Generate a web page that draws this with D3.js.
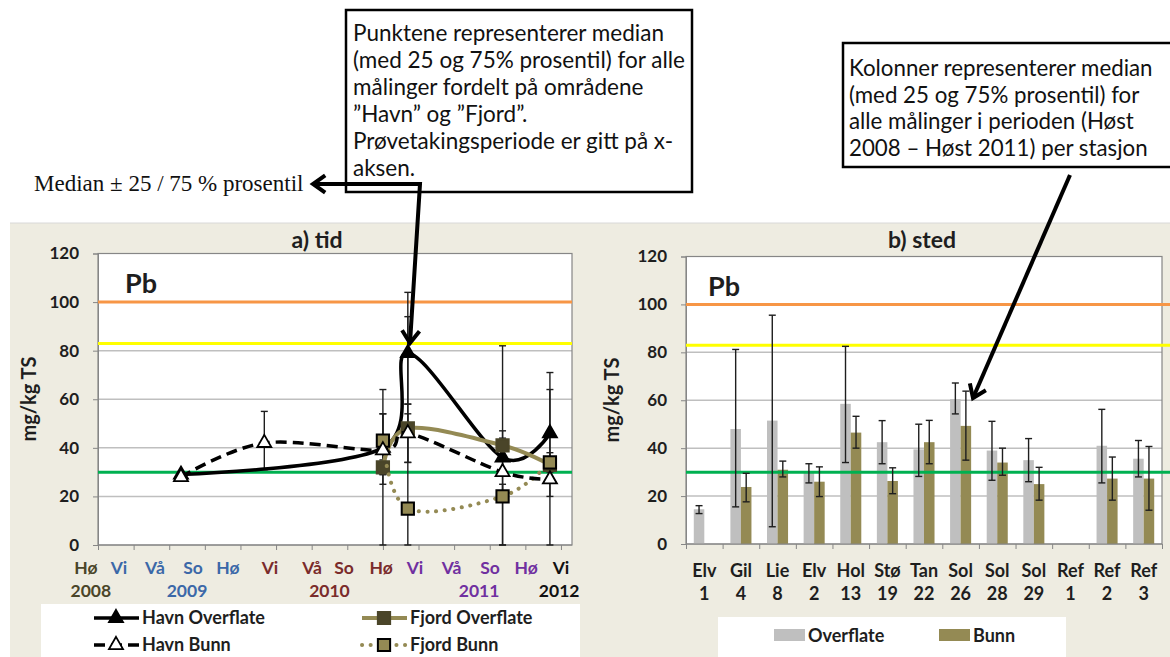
<!DOCTYPE html>
<html>
<head>
<meta charset="utf-8">
<title>Pb - tid og sted</title>
<script src="https://d3js.org/d3.v7.min.js"></script>
<style>
body { margin: 0; background: #fff; }
svg text { font-family: Lato, "Open Sans", sans-serif; }
svg text.serif { font-family: "Liberation Serif", "DejaVu Serif", serif; }
</style>
</head>
<body>
<script>
// ---- data: a) tid ----
var seasonLabels = ["Hø","Vi","Vå","So","Hø","Vi","Vå","So","Hø","Vi","Vå","So","Hø","Vi"];
var seasonPos = [-0.34, 0.59, 1.6, 2.67, 3.65, 4.83, 6.01, 6.91, 7.95, 8.9, 9.93, 11.01, 12.02, 13.0];
var seasonYear = [2008, 2009, 2009, 2009, 2009, 2010, 2010, 2010, 2010, 2011, 2011, 2011, 2011, 2012];
var yearLabels = [2008, 2009, 2010, 2011, 2012];
var yearPos = [-0.2, 2.5, 6.5, 10.7, 12.95];

var havnOverflateX  = [2.33, 8.0, 8.7, 11.36, 12.69];
var havnOverflate   = [29, 40, 79, 36, 46];
var havnOverflateLo = [null, 0, 58, 0, 20];
var havnOverflateHi = [null, 64, 104, 82, 71];

var havnBunnX  = [2.33, 4.67, 8.0, 8.7, 11.36, 12.69];
var havnBunn   = [28, 42, 39, 46, 30, 27];
var havnBunnLo = [null, 31, 25, 34, 22, 0];
var havnBunnHi = [null, 55, 54, 94, 47, 64];

var fjordOverflateX  = [8.0, 8.7, 11.36, 12.69];
var fjordOverflate   = [32, 48, 41, 33];
var fjordOverflateLo = [29, 34, 37, 31];
var fjordOverflateHi = [35, 54, 44, 35];

var fjordBunnX  = [8.0, 8.7, 11.36, 12.69];
var fjordBunn   = [43, 15, 20, 34];
var fjordBunnLo = [29, 0, 0, 30];
var fjordBunnHi = [54, 58, 25, 38];

// ---- data: b) sted ----
var stationNames = ["Elv","Gil","Lie","Elv","Hol","Stø","Tan","Sol","Sol","Sol","Ref","Ref","Ref"];
var stationNums  = ["1","4","8","2","13","19","22","26","28","29","1","2","3"];
var overflate   = [14.5, 48, 51.5, 30, 58.5, 42.5, 39.5, 60.5, 39, 35, null, 41, 35.6];
var overflateLo = [12.7, 15.5, 7.2, 25.5, 34, 33.5, 28.2, 54.3, 26.6, 26, null, 25.5, 28];
var overflateHi = [16, 81.2, 95.5, 33.5, 82.5, 51.5, 50, 67.2, 51.2, 44, null, 56.2, 43.2];
var bunn   = [null, 23.8, 31, 26, 46.5, 26.3, 42.5, 49.3, 34, 25, null, 27.3, 27.3];
var bunnLo = [null, 17.6, 28, 19.8, 40, 21, 33.5, 35, 28.7, 18.3, null, 18.3, 14.1];
var bunnHi = [null, 29.5, 34.6, 32.2, 53.3, 31.8, 51.6, 63.8, 40, 32, null, 36.3, 40.7];

var yTicks = [0, 20, 40, 60, 80, 100, 120];
var limitValues = [100, 83, 30];

// ---- style ----
var limitColors = ["#F79646", "#FFFF00", "#00B050"];
var yearColors = {2008: "#4A4529", 2009: "#3B68A8", 2010: "#7A2B2B", 2011: "#7030A0", 2012: "#111"};
var olive = "#948A54", darkOlive = "#4A4529", grey = "#BFBFBF", ink = "#1E1E1E";

var svg = d3.select("body").append("svg").attr("width", 1170).attr("height", 657);

svg.append("rect").attr("x", 10).attr("y", 223).attr("width", 1160).attr("height", 434).attr("fill", "#EEECE1");
svg.append("line").attr("x1", 10).attr("x2", 1170).attr("y1", 223).attr("y2", 223).attr("stroke", "#D8D8D8");

function frame(g, x0, x1, y, title, titleX) {
  g.append("rect").attr("x", x0).attr("y", y.range()[1]).attr("width", x1 - x0)
    .attr("height", y.range()[0] - y.range()[1]).attr("fill", "#fff");
  // gridlines
  g.selectAll("line.grid").data(yTicks.slice(1, -1)).enter().append("line")
    .attr("x1", x0).attr("x2", x1).attr("y1", d => y(d)).attr("y2", d => y(d))
    .attr("stroke", "#BFBFBF").attr("stroke-width", 1.5);
  g.append("rect").attr("x", x0).attr("y", y.range()[1]).attr("width", x1 - x0)
    .attr("height", y.range()[0] - y.range()[1]).attr("fill", "none").attr("stroke", "#868686").attr("stroke-width", 1.2);
  var ax = g.append("g").attr("transform", "translate(" + x0 + ",0)")
    .call(d3.axisLeft(y).tickValues(yTicks).tickSize(5).tickPadding(14));
  ax.select(".domain").attr("stroke", "#868686");
  ax.selectAll(".tick line").attr("stroke", "#868686");
  ax.selectAll(".tick text").attr("font-size", 17).attr("font-weight", "bold").attr("fill", ink);
  g.append("text").attr("x", titleX).attr("y", 248).attr("text-anchor", "middle")
    .attr("font-size", 23).attr("font-weight", "bold").attr("fill", ink).text(title);
}

function limits(g, x0, x1, y) {
  g.selectAll("line.lim").data(limitValues).enter().append("line")
    .attr("x1", x0).attr("x2", x1).attr("y1", d => y(d)).attr("y2", d => y(d))
    .attr("stroke", (d, i) => limitColors[i]).attr("stroke-width", 3);
}

function errBar(g, x, lo, hi, cap) {
  g.append("line").attr("x1", x).attr("x2", x).attr("y1", lo).attr("y2", hi)
    .attr("stroke", ink).attr("stroke-width", 1.4);
  [lo, hi].forEach(function (v) {
    g.append("line").attr("x1", x - cap).attr("x2", x + cap).attr("y1", v).attr("y2", v)
      .attr("stroke", ink).attr("stroke-width", 1.4);
  });
}

// ================= a) tid =================
var xA = d3.scaleLinear().domain([0, 13.31]).range([98, 572]);
var yA = d3.scaleLinear().domain([0, 120]).range([545, 253.5]);
var gA = svg.append("g");
frame(gA, 98, 572, yA, "a) tid", 317);
limits(gA, 98, 572, yA);

var xAxA = gA.append("g").attr("transform", "translate(0,545)")
  .call(d3.axisBottom(xA).tickValues(d3.range(0, 14)).tickSize(5).tickFormat(""));
xAxA.select(".domain").remove();
xAxA.selectAll(".tick line").attr("stroke", "#868686");
gA.append("line").attr("x1", 98).attr("x2", 572).attr("y1", 545).attr("y2", 545).attr("stroke", "#868686");

gA.selectAll("text.season").data(seasonLabels).enter().append("text")
  .attr("x", (d, i) => xA(seasonPos[i])).attr("y", 574).attr("text-anchor", "middle")
  .attr("font-size", 17.5).attr("font-weight", "bold").attr("fill", (d, i) => yearColors[seasonYear[i]]).text(d => d);
gA.selectAll("text.year").data(yearLabels).enter().append("text")
  .attr("x", (d, i) => xA(yearPos[i])).attr("y", 597).attr("text-anchor", "middle")
  .attr("font-size", 17.5).attr("font-weight", "bold").attr("fill", d => yearColors[d]).text(d => d);

gA.append("text").attr("transform", "translate(36,399) rotate(-90)").attr("text-anchor", "middle")
  .attr("font-size", 20).attr("font-weight", "bold").attr("fill", ink).text("mg/kg TS");
gA.append("text").attr("x", 125).attr("y", 293).attr("font-size", 27).attr("font-weight", "bold")
  .attr("fill", ink).text("Pb");

var seriesA = [
  {name: "Havn Overflate", x: havnOverflateX, v: havnOverflate, lo: havnOverflateLo, hi: havnOverflateHi,
   stroke: "#000", width: 3.5, dash: null, marker: "tri", fill: "#000", mstroke: "#000"},
  {name: "Fjord Overflate", x: fjordOverflateX, v: fjordOverflate, lo: fjordOverflateLo, hi: fjordOverflateHi,
   stroke: olive, width: 4, dash: null, marker: "sq", fill: darkOlive, mstroke: darkOlive},
  {name: "Havn Bunn", x: havnBunnX, v: havnBunn, lo: havnBunnLo, hi: havnBunnHi,
   stroke: "#000", width: 3.5, dash: "11 6", marker: "tri", fill: "#fff", mstroke: "#000"},
  {name: "Fjord Bunn", x: fjordBunnX, v: fjordBunn, lo: fjordBunnLo, hi: fjordBunnHi,
   stroke: olive, width: 4, dash: "0.1 8.5", marker: "sq", fill: olive, mstroke: "#000"}
];

seriesA.forEach(function (s) {
  s.x.forEach(function (xv, i) {
    if (s.lo[i] != null) errBar(gA, xA(xv), yA(s.lo[i]), yA(s.hi[i]), 3.5);
  });
});

var lineA = d3.line().x(d => xA(d[0])).y(d => yA(d[1])).curve(d3.curveCatmullRom.alpha(0));
var triSym = d3.symbol().type(d3.symbolTriangle).size(85);
var sqSym = d3.symbol().type(d3.symbolSquare).size(150);

function drawMarker(g, s, cx, cy) {
  g.append("path").attr("d", s.marker === "tri" ? triSym() : sqSym())
    .attr("transform", "translate(" + cx + "," + cy + ")")
    .attr("fill", s.fill).attr("stroke", s.mstroke).attr("stroke-width", s.marker === "tri" ? 1.8 : 2);
}

// draw order: Havn Overflate, Fjord Overflate, Fjord Bunn, Havn Bunn on top
[seriesA[0], seriesA[1], seriesA[3], seriesA[2]].forEach(function (s) {
  var pts = s.x.map((xv, i) => [xv, s.v[i]]);
  gA.append("path").attr("d", lineA(pts)).attr("fill", "none").attr("stroke", s.stroke)
    .attr("stroke-width", s.width).attr("stroke-dasharray", s.dash)
    .attr("stroke-linecap", s.dash && s.dash.indexOf("0.1") === 0 ? "round" : "butt");
  pts.forEach(p => drawMarker(gA, s, xA(p[0]), yA(p[1])));
});

// legend a)
svg.append("rect").attr("x", 41).attr("y", 604).attr("width", 539).attr("height", 53).attr("fill", "#fff");
var legPos = [[94, 618], [362, 618], [94, 645], [362, 645]];
seriesA.forEach(function (s, i) {
  var lx = legPos[i][0], ly = legPos[i][1];
  svg.append("line").attr("x1", lx).attr("x2", lx + 45).attr("y1", ly).attr("y2", ly)
    .attr("stroke", s.stroke).attr("stroke-width", s.width).attr("stroke-dasharray", s.dash)
    .attr("stroke-linecap", s.dash && s.dash.indexOf("0.1") === 0 ? "round" : "butt");
  drawMarker(svg, s, lx + 22, ly);
  svg.append("text").attr("x", lx + 48).attr("y", ly + 6).attr("font-size", 18).attr("font-weight", "bold")
    .attr("fill", ink).text(s.name);
});

// ================= b) sted =================
var stationIds = stationNames.map((n, i) => n + " " + stationNums[i] + "#" + i);
var xB = d3.scaleBand().domain(stationIds).range([686, 1162]);
var xSub = d3.scaleBand().domain(["Overflate", "Bunn"]).range([0, xB.bandwidth()]).paddingOuter(0.74);
var yB = d3.scaleLinear().domain([0, 120]).range([544, 256.5]);
var gB = svg.append("g");
frame(gB, 686, 1162, yB, "b) sted", 922);

var xAxB = gB.append("g").attr("transform", "translate(0,544)")
  .call(d3.axisBottom(d3.scaleLinear().domain([0, 13]).range([686, 1162])).tickValues(d3.range(0, 14)).tickSize(5).tickFormat(""));
xAxB.select(".domain").remove();
xAxB.selectAll(".tick line").attr("stroke", "#868686");

var barsB = [
  {key: "Overflate", v: overflate, lo: overflateLo, hi: overflateHi, fill: grey},
  {key: "Bunn", v: bunn, lo: bunnLo, hi: bunnHi, fill: olive}
];
barsB.forEach(function (s) {
  gB.selectAll("rect.b" + s.key).data(stationIds).enter().filter((d, i) => s.v[i] != null).append("rect")
    .attr("x", d => xB(d) + xSub(s.key)).attr("width", xSub.bandwidth())
    .attr("y", d => yB(s.v[stationIds.indexOf(d)]))
    .attr("height", d => yB(0) - yB(s.v[stationIds.indexOf(d)]))
    .attr("fill", s.fill);
});
limits(gB, 686, 1170, yB);
barsB.forEach(function (s) {
  stationIds.forEach(function (d, i) {
    if (s.lo[i] == null) return;
    errBar(gB, xB(d) + xSub(s.key) + xSub.bandwidth() / 2, yB(s.lo[i]), yB(s.hi[i]), 3.5);
  });
});
gB.append("line").attr("x1", 686).attr("x2", 1162).attr("y1", 544).attr("y2", 544).attr("stroke", "#868686");

gB.selectAll("text.st").data(stationIds).enter().append("text")
  .attr("x", d => xB(d) + xB.bandwidth() / 2).attr("y", 577).attr("text-anchor", "middle")
  .attr("font-size", 18).attr("font-weight", "bold").attr("fill", ink).text((d, i) => stationNames[i]);
gB.selectAll("text.sn").data(stationIds).enter().append("text")
  .attr("x", d => xB(d) + xB.bandwidth() / 2).attr("y", 600).attr("text-anchor", "middle")
  .attr("font-size", 18).attr("font-weight", "bold").attr("fill", ink).text((d, i) => stationNums[i]);

gB.append("text").attr("transform", "translate(619,400) rotate(-90)").attr("text-anchor", "middle")
  .attr("font-size", 20).attr("font-weight", "bold").attr("fill", ink).text("mg/kg TS");
gB.append("text").attr("x", 708).attr("y", 296).attr("font-size", 27).attr("font-weight", "bold")
  .attr("fill", ink).text("Pb");

// legend b)
svg.append("rect").attr("x", 718).attr("y", 617).attr("width", 348).attr("height", 40).attr("fill", "#fff");
[[774, "Overflate", grey], [939, "Bunn", olive]].forEach(function (l) {
  svg.append("rect").attr("x", l[0]).attr("y", 629).attr("width", 31).attr("height", 12).attr("fill", l[2]);
  svg.append("text").attr("x", l[0] + 34).attr("y", 642).attr("font-size", 18).attr("font-weight", "bold")
    .attr("fill", ink).text(l[1]);
});

// ================= annotations =================
function chevron(g, tip, from) {
  var a = Math.atan2(tip[1] - from[1], tip[0] - from[0]), L = 15, sp = 0.62;
  var p1 = [tip[0] - L * Math.cos(a - sp), tip[1] - L * Math.sin(a - sp)];
  var p2 = [tip[0] - L * Math.cos(a + sp), tip[1] - L * Math.sin(a + sp)];
  g.append("path").attr("d", "M" + p1 + "L" + tip + "L" + p2).attr("fill", "none")
    .attr("stroke", "#000").attr("stroke-width", 4).attr("stroke-linejoin", "miter");
}

var note1 = ["Punktene representerer median", "(med 25 og 75% prosentil) for alle",
  "målinger fordelt på områdene", "”Havn” og ”Fjord”.", "Prøvetakingsperiode er gitt på x-", "aksen."];
var note2 = ["Kolonner representerer median", "(med 25 og 75% prosentil) for",
  "alle målinger i perioden (Høst", "2008 – Høst 2011) per stasjon"];

svg.append("rect").attr("x", 346).attr("y", 10).attr("width", 346).attr("height", 182)
  .attr("fill", "#fff").attr("stroke", "#000").attr("stroke-width", 2.5);
note1.forEach(function (t, i) {
  svg.append("text").attr("x", 353).attr("y", 41 + i * 27).attr("font-size", 22.5).attr("fill", "#111").text(t);
});
svg.append("rect").attr("x", 843).attr("y", 43).attr("width", 340).attr("height", 124)
  .attr("fill", "#fff").attr("stroke", "#000").attr("stroke-width", 2.5);
note2.forEach(function (t, i) {
  svg.append("text").attr("x", 849).attr("y", 76 + i * 26.5).attr("font-size", 22.3).attr("fill", "#111").text(t);
});

svg.append("text").attr("class", "serif").attr("x", 34).attr("y", 191)
  .attr("font-size", 23).attr("fill", "#111").text("Median ± 25 / 75 % prosentil");

svg.append("path").attr("d", "M313,184L420,184L410,343").attr("fill", "none")
  .attr("stroke", "#000").attr("stroke-width", 4);
chevron(svg, [313, 184], [420, 184]);
chevron(svg, [410, 343], [420, 184]);
svg.append("line").attr("x1", 1070).attr("y1", 175).attr("x2", 973).attr("y2", 398)
  .attr("stroke", "#000").attr("stroke-width", 4);
chevron(svg, [973, 398], [1070, 175]);
</script>
</body>
</html>
